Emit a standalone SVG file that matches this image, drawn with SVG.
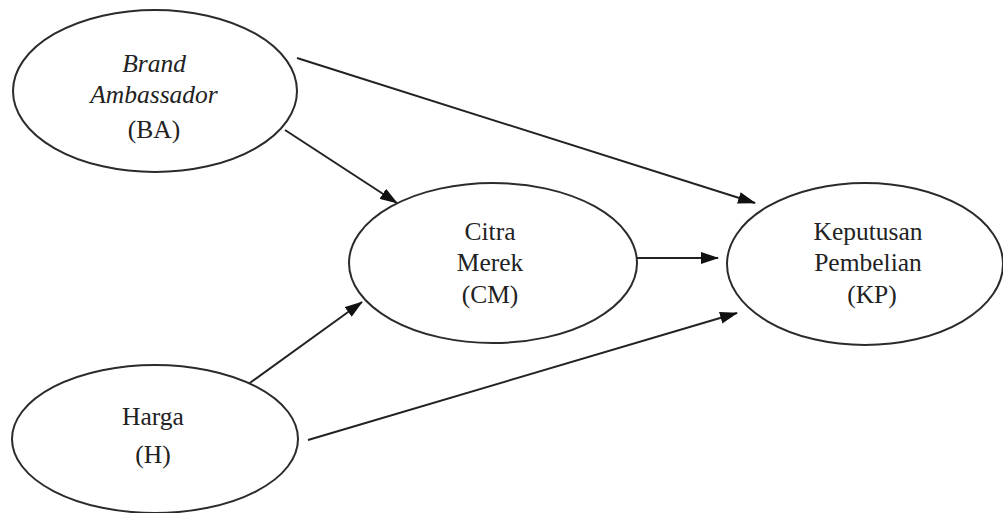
<svg xmlns="http://www.w3.org/2000/svg" width="1003" height="513" viewBox="0 0 1003 513">
<style>
.node{fill:#fff;stroke:#2b2b2b;stroke-width:2}
.t{font-family:"Liberation Serif","Times New Roman",serif;font-size:25.5px;fill:#222;text-anchor:middle}
.it{font-style:italic}
.c{stroke:#222;stroke-width:2;fill:none;marker-end:url(#ah)}
</style>
<defs>
<marker id="ah" markerWidth="18" markerHeight="12" refX="17" refY="6" orient="auto" markerUnits="userSpaceOnUse">
<path d="M0,0 L18,6 L0,12 Z" fill="#111"/>
</marker>
</defs>
<rect width="1003" height="513" fill="#fff"/>
<g id="connectors">
<line class="c" x1="297" y1="58" x2="755" y2="203"/>
<line class="c" x1="285" y1="130" x2="397" y2="203"/>
<line class="c" x1="637" y1="258" x2="718" y2="258"/>
<line class="c" x1="247" y1="385" x2="362" y2="302"/>
<line class="c" x1="308" y1="440" x2="737" y2="313"/>
</g>
<g id="BA">
<ellipse class="node" cx="155" cy="91" rx="142" ry="81"/>
<text class="t it" x="154" y="72">Brand</text>
<text class="t it" x="154" y="103">Ambassador</text>
<text class="t" x="154" y="138">(BA)</text>
</g>
<g id="CM">
<ellipse class="node" cx="493" cy="263" rx="144" ry="80"/>
<text class="t" x="490" y="240">Citra</text>
<text class="t" x="490" y="271">Merek</text>
<text class="t" x="490" y="303">(CM)</text>
</g>
<g id="KP">
<ellipse class="node" cx="865" cy="264" rx="138" ry="81"/>
<text class="t" x="868" y="240">Keputusan</text>
<text class="t" x="868" y="271">Pembelian</text>
<text class="t" x="872" y="303">(KP)</text>
</g>
<g id="H">
<ellipse class="node" cx="155" cy="439" rx="143" ry="74"/>
<text class="t" x="153" y="425">Harga</text>
<text class="t" x="153" y="463">(H)</text>
</g>
</svg>
